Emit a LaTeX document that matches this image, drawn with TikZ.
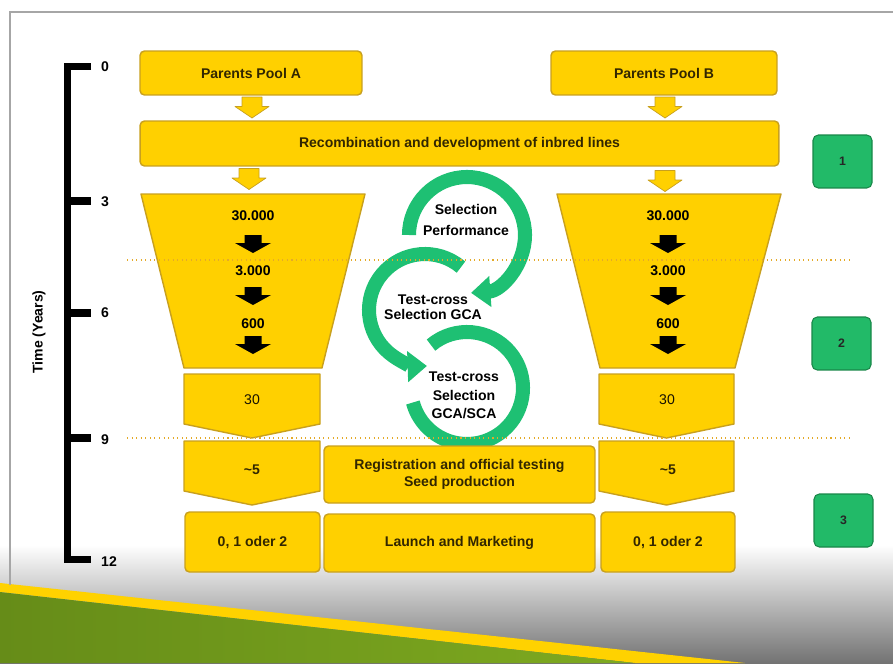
\documentclass[tikz,border=0pt]{standalone}
\usepackage{fontspec}
\setmainfont{Liberation Sans}
\usetikzlibrary{arrows.meta}

\definecolor{poolyellow}{RGB}{255,208,0}
\definecolor{pooledge}{RGB}{200,160,30}
\definecolor{pooltext}{RGB}{50,38,0}
\definecolor{phasegreen}{RGB}{34,186,104}
\definecolor{phaseedge}{RGB}{24,135,72}
\definecolor{cyclegreen}{RGB}{30,192,115}
\definecolor{yeardots}{RGB}{228,170,40}
\definecolor{grassdark}{RGB}{102,140,24}
\definecolor{grasslight}{RGB}{126,170,32}
\definecolor{stripeyellow}{RGB}{255,210,0}

\tikzset{
  ybox/.style={rectangle, rounded corners=2.5pt, draw=pooledge, line width=0.8pt,
    fill=poolyellow, text=pooltext, align=center, inner sep=0pt,
    font=\bfseries\fontsize{8}{10}\selectfont},
  ychev/.style={draw=pooledge, line width=0.8pt, fill=poolyellow, line join=round},
  gbox/.style={rectangle, rounded corners=3pt, draw=phaseedge, line width=0.6pt,
    fill=phasegreen, text=black!85, minimum width=1.18cm, minimum height=1.06cm,
    font=\bfseries\fontsize{7}{8}\selectfont},
  % block arrows pointing down, drawn around their centre
  pics/ydown/.style={code={
    \path[draw=pooledge, line width=0.4pt, fill=poolyellow, line join=round]
      (-10,-10.5) -- (10,-10.5) -- (10,-1) -- (17,-1) -- (0,10.5) -- (-17,-1) -- (-10,-1) -- cycle;
  }},
  pics/kdown/.style={code={
    \path[fill=black]
      (-8.5,-9) -- (8.5,-9) -- (8.5,-1) -- (18,-1) -- (0,9) -- (-18,-1) -- (-8.5,-1) -- cycle;
  }},
  tally/.style={font=\bfseries\fontsize{8}{10}\selectfont},
  faint/.style={text=black!55!pooltext, font=\fontsize{8}{10}\selectfont},
  cyclearc/.style={draw=cyclegreen, line width=8pt},
  cycletip/.style={-{Triangle[length=11pt, width=17pt]}},
  cycletxt/.style={align=center, font=\bfseries\fontsize{8}{10}\selectfont},
  year/.style={anchor=west, font=\bfseries\fontsize{8}{10}\selectfont},
}

\begin{document}
\begin{tikzpicture}[x=0.02cm, y=-0.02cm]
    \useasboundingbox (0,0) rectangle (893,663);

    % Footer swoosh
    \shade[top color=white, bottom color=black!55] (0,545) rectangle (893,663);
    \fill[stripeyellow] (0,583) -- (745,663) -- (635,663) -- (0,592) -- cycle;
    \shade[left color=grassdark, right color=grasslight] (0,592) -- (635,663) -- (0,663) -- cycle;

    % Slide frame
    \draw[gray!70, line width=0.6pt] (10,585) -- (10,12) -- (893,12);

    % Time axis
    \draw[line width=4pt, line join=miter] (91,66.5) -- (67.5,66.5) -- (67.5,559.5) -- (91,559.5);
    \foreach \ypos in {201, 313, 438} {
        \draw[line width=4pt] (67.5,\ypos) -- (91,\ypos);
    }
    \foreach \yr/\ypos in {0/67, 3/202, 6/313, 9/440, 12/562} {
        \node[year] (yr\yr) at (95,\ypos) {\yr};
    }
    \node[rotate=90, font=\bfseries\fontsize{8}{10}\selectfont] (timelabel) at (39,332) {Time (Years)};

    % Parent pools and recombination
    \node[ybox, minimum width=4.44cm, minimum height=0.88cm] (poolA) at (251,73) {Parents Pool A};
    \node[ybox, minimum width=4.52cm, minimum height=0.88cm] (poolB) at (664,73) {Parents Pool B};
    \node[ybox, minimum width=12.78cm, minimum height=0.9cm] (recomb) at (459.5,143.5)
        {Recombination and development of inbred lines};
    \pic (inA) at (252,107.5) {ydown};
    \pic (inB) at (665,107.5) {ydown};
    \pic (outA) at (249,179) {ydown};
    \pic (outB) at (665,181) {ydown};

    % Phase markers
    \node[gbox] (phase1) at (842.5,161.5) {1};
    \node[gbox] (phase2) at (841.5,343.5) {2};
    \node[gbox] (phase3) at (843.5,520.5) {3};

    % Selection funnels
    \draw[ychev] (141,194) -- (365,194) -- (322,368) -- (184,368) -- cycle;
    \draw[ychev] (557,194) -- (781,194) -- (735,368) -- (600,368) -- cycle;
    \foreach \side/\xc in {A/253, B/668} {
        \node[tally] (big\side) at (\xc,216) {30.000};
        \pic (cutone\side) at (\xc,244) {kdown};
        \node[tally] (mid\side) at (\xc,271) {3.000};
        \pic (cuttwo\side) at (\xc,296) {kdown};
        \node[tally] (small\side) at (\xc,324) {600};
        \pic (cutthree\side) at (\xc,345) {kdown};
    }

    % Candidate stages
    \foreach \xl/\xr in {184/320, 599/734} {
        \draw[ychev] (\xl,374) -- (\xr,374) -- (\xr,424) -- ({(\xl+\xr)/2},438) -- (\xl,424) -- cycle;
        \draw[ychev] (\xl,441) -- (\xr,441) -- (\xr,491) -- ({(\xl+\xr)/2},505) -- (\xl,491) -- cycle;
    }
    \node[faint] (thirtyA) at (252,400) {30};
    \node[faint] (thirtyB) at (667,400) {30};
    \node[tally, text=pooltext] (fiveA) at (252,470) {\textasciitilde5};
    \node[tally, text=pooltext] (fiveB) at (668,470) {\textasciitilde5};

    % Testing cycles
    \coordinate (cyc1) at (467,235);
    \coordinate (cyc2) at (425,310);
    \coordinate (cyc3) at (467,388);
    \draw[cyclearc, cycletip] (cyc1) ++(180:58) arc[start angle=180, end angle=446, radius=58];
    \draw[cyclearc, cycletip] (cyc2) ++(-50:56) arc[start angle=-50, end angle=-272, radius=56];
    \draw[cyclearc] (cyc3) ++(-130:56) arc[start angle=-130, end angle=165, radius=56];
    \node[cycletxt] (perf) at (466,220) {Selection\\[2pt]Performance};
    \node[cycletxt, font=\bfseries\fontsize{8}{8.5}\selectfont] (gca) at (433,307) {Test-cross\\Selection GCA};
    \node[cycletxt] (sca) at (464,395) {Test-cross\\[1pt]Selection\\GCA/SCA};

    % Registration and launch
    \node[ybox, minimum width=5.42cm, minimum height=1.14cm] (reg) at (459.5,474.5)
        {Registration and official testing\\Seed production};
    \node[ybox, minimum width=2.7cm, minimum height=1.2cm] (endA) at (252.5,542) {0, 1 oder 2};
    \node[ybox, minimum width=5.42cm, minimum height=1.16cm] (launch) at (459.5,543) {Launch and Marketing};
    \node[ybox, minimum width=2.68cm, minimum height=1.2cm] (endB) at (668,542) {0, 1 oder 2};

    % Year guides
    \draw[yeardots, dotted, line width=0.6pt] (127,260) -- (853,260);
    \draw[yeardots, dotted, line width=0.6pt] (127,438) -- (853,438);
\end{tikzpicture}
\end{document}
